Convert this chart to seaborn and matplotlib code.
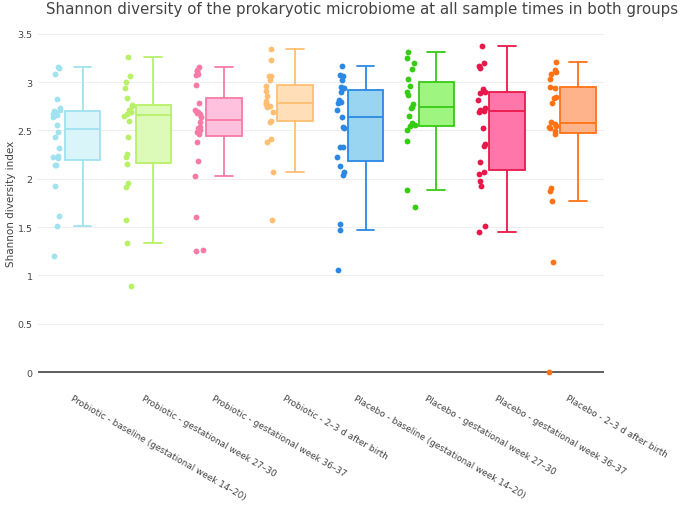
import numpy as np
import pandas as pd
import matplotlib
matplotlib.use('Agg')
import matplotlib.pyplot as plt
import seaborn as sns

groups = ['Probiotic - baseline (gestational week 14–20)',
          'Probiotic - gestational week 27–30',
          'Probiotic - gestational week 36–37',
          'Probiotic - 2–3 d after birth',
          'Placebo - baseline (gestational week 14–20)',
          'Placebo - gestational week 27–30',
          'Placebo - gestational week 36–37',
          'Placebo - 2–3 d after birth']

probiotic_baseline = [3.154, 3.144, 3.085, 2.826, 2.729, 2.715, 2.70, 2.695, 2.671, 2.664, 2.643, 2.557,
                      2.481, 2.436, 2.316, 2.233, 2.222, 2.212, 2.146, 2.146, 1.929, 1.618, 1.508, 1.198]
probiotic_gw27 = [3.257, 3.061, 3.005, 2.937, 2.836, 2.764, 2.757, 2.715, 2.695, 2.688, 2.671, 2.647,
                  2.602, 2.436, 2.257, 2.222, 2.15, 1.953, 1.912, 1.573, 1.332, 0.887]
probiotic_gw36 = [3.161, 3.126, 3.119, 3.085, 3.075, 2.971, 2.785, 2.715, 2.688, 2.681, 2.671, 2.64,
                  2.585, 2.540, 2.523, 2.505, 2.481, 2.464, 2.378, 2.181, 2.026, 1.601, 1.263, 1.249]
probiotic_birth = [3.344, 3.233, 3.068, 3.061, 3.023, 2.96, 2.912, 2.854, 2.809, 2.785, 2.774, 2.750,
                   2.740, 2.688, 2.602, 2.592, 2.412, 2.378, 2.067, 1.577]
placebo_baseline = [3.171, 3.075, 3.061, 3.026, 2.947, 2.937, 2.895, 2.819, 2.798, 2.785, 2.715, 2.643,
                    2.533, 2.526, 2.333, 2.326, 2.222, 2.136, 2.067, 2.039, 1.532, 1.470, 1.059]
placebo_gw27 = [3.309, 3.247, 3.195, 3.137, 3.033, 2.964, 2.902, 2.867, 2.774, 2.740, 2.729, 2.647,
                2.578, 2.557, 2.543, 2.509, 2.388, 1.88, 1.711]
placebo_gw36 = [3.378, 3.199, 3.171, 3.144, 2.930, 2.902, 2.888, 2.819, 2.729, 2.715, 2.705, 2.695,
                2.526, 2.360, 2.343, 2.171, 2.067, 2.050, 1.974, 1.929, 1.515, 1.446]
placebo_birth = [3.213, 3.126, 3.102, 3.085, 3.033, 2.954, 2.937, 2.850, 2.833, 2.781, 2.585, 2.567,
                 2.550, 2.533, 2.523, 2.498, 2.464, 1.905, 1.877, 1.774, 1.135, 0.0]

values = [probiotic_baseline, probiotic_gw27, probiotic_gw36, probiotic_birth,
          placebo_baseline, placebo_gw27, placebo_gw36, placebo_birth]

line_colors = ['#a0e2f0', '#b8f068', '#f77ba6', '#ffbe72', '#2b88e4', '#35cc12', '#e8194a', '#ff7316']
fill_colors = ['#d9f5fa', '#dcfbb8', '#ffc1dd', '#ffdeb8', '#99d5f0', '#9ef57f', '#ff77aa', '#ffb38a']

sns.set_style('white')
plt.rcParams['font.family'] = ['DejaVu Sans']
np.random.seed(3)

fig = plt.figure(figsize=(6.92, 5.06), dpi=100)
ax = fig.add_axes([38 / 692, 1 - 382.7 / 506, 566 / 692, 357.5 / 506])

for i, vals in enumerate(values):
    df = pd.DataFrame({'x': np.full(len(vals), i + 0.13), 'y': vals})
    sns.boxplot(data=df, x='x', y='y', native_scale=True, orient='x', width=0.5,
                color=fill_colors[i], linecolor=line_colors[i], linewidth=1.3,
                saturation=1, showfliers=False, ax=ax)
    pts = pd.DataFrame({'x': np.full(len(vals), i - 0.23), 'y': vals})
    sns.stripplot(data=pts, x='x', y='y', native_scale=True, orient='x', jitter=0.06,
                  color=line_colors[i], size=4.2, linewidth=0, zorder=4, ax=ax)

ax.axhline(0, color='#444444', lw=1.2, zorder=2)
ax.set_xlim(-0.5, 7.5)
ax.set_ylim(-0.1, 3.6)
yt = [0, 0.5, 1, 1.5, 2, 2.5, 3, 3.5]
ax.set_yticks(yt)
ax.set_yticklabels([f'{v:g}' for v in yt], fontsize=6.8, color='#444444')
ax.set_xticks(range(len(groups)))
ax.set_xticklabels(groups, rotation=-30, ha='left', va='top', rotation_mode='anchor',
                   fontsize=6.4, color='#444444')
ax.tick_params(axis='both', length=0)
ax.tick_params(axis='x', pad=8)
ax.tick_params(axis='y', pad=4)
ax.yaxis.grid(True, color='#eeeeee', lw=0.8)
ax.set_axisbelow(True)
for s in ax.spines.values():
    s.set_visible(False)
ax.set_xlabel('')
ax.set_ylabel('Shannon diversity index', fontsize=7.5, color='#444444', labelpad=1)
fig.suptitle('Shannon diversity of the prokaryotic microbiome at all sample times in both groups',
             x=0.523, y=0.982, fontsize=10.8, color='#444444', va='center')

fig.savefig('out.png', dpi=100)
